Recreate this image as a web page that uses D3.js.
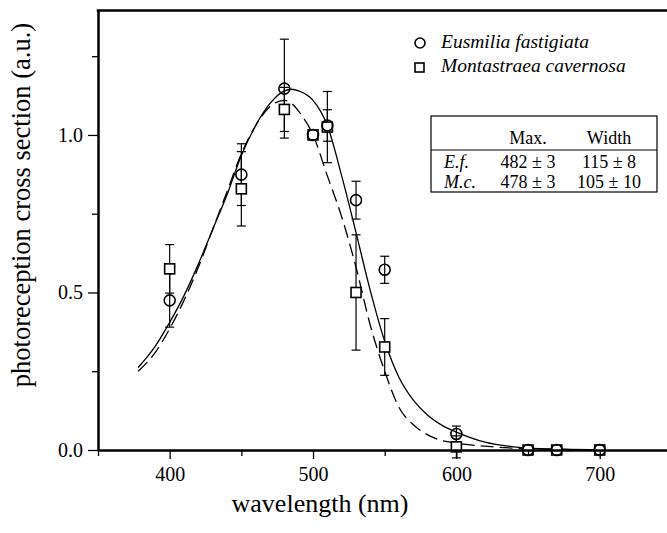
<!DOCTYPE html>
<html><head><meta charset="utf-8">
<script src="https://cdn.jsdelivr.net/npm/d3@7"></script>
<style>
body{margin:0;background:#fff;}
svg{display:block;font-family:"Liberation Serif","Times New Roman",serif;}
</style></head>
<body><svg id="c" width="667" height="533"></svg>
<script>
// ---- data ----
const xTicks = [400, 500, 600, 700];
const xMinorTicks = [350, 450, 550, 650];
const yTicks = [0.0, 0.5, 1.0];
const yMinorTicks = [0.25, 0.75, 1.25];
const yTickLabels = ["0.0", "0.5", "1.0"];

// Eusmilia fastigiata (circles)
const efWave = [400, 450, 480, 500, 510, 530, 550, 600, 650, 670, 700];
const efVal  = [0.475, 0.874, 1.147, 1.0, 1.03, 0.793, 0.572, 0.051, 0.0, 0.0, 0.0];
const efErr  = [0.085, 0.098, 0.157, 0, 0.05, 0.06, 0.043, 0.025, 0, 0, 0];

// Montastraea cavernosa (squares)
const mcWave = [400, 450, 480, 500, 510, 530, 550, 600, 650, 670, 700];
const mcVal  = [0.575, 0.829, 1.081, 1.0, 1.025, 0.5, 0.327, 0.01, 0.0, 0.0, 0.0];
const mcErr  = [0.077, 0.118, 0.07, 0, 0.113, 0.183, 0.09, 0.035, 0, 0, 0];

// fitted curves
const fitWave  = [378, 390, 400, 410, 420, 430, 440, 450, 460, 470, 480, 485, 490, 500, 510, 520, 530, 540, 550, 560, 570, 580, 590, 600, 620, 640, 660, 680, 700];
const efFit    = [0.262, 0.33, 0.405, 0.49, 0.59, 0.70, 0.81, 0.935, 1.03, 1.10, 1.14, 1.145, 1.14, 1.11, 1.03, 0.87, 0.69, 0.505, 0.345, 0.23, 0.158, 0.11, 0.078, 0.057, 0.025, 0.01, 0.004, 0.002, 0.001];
const mcFit    = [0.25, 0.31, 0.385, 0.475, 0.58, 0.70, 0.82, 0.94, 1.03, 1.09, 1.11, 1.10, 1.075, 1.0, 0.87, 0.74, 0.58, 0.395, 0.25, 0.135, 0.08, 0.048, 0.03, 0.022, 0.012, 0.006, 0.003, 0.001, 0.0];

const legendNames = ["Eusmilia fastigiata", "Montastraea cavernosa"];
const tableHeader = ["", "Max.", "Width"];
const tableRows = [["E.f.", "482 \u00b1 3", "115 \u00b1 8"], ["M.c.", "478 \u00b1 3", "105 \u00b1 10"]];

// ---- layout ----
const svg = d3.select("#c");
const L = 98, T = 10.5, B = 450;
const x = d3.scaleLinear().domain([350, 750]).range([L, L + 400 * 1.4335]);
const y = d3.scaleLinear().domain([0, 1.395]).range([B, T]);

// curves
const line = d3.line().x(d => x(d[0])).y(d => y(d[1])).curve(d3.curveMonotoneX);
svg.append("path").datum(fitWave.map((w, i) => [w, efFit[i]]))
  .attr("d", line).attr("fill", "none").attr("stroke", "#000").attr("stroke-width", 1.3);
svg.append("path").datum(fitWave.map((w, i) => [w, mcFit[i]]))
  .attr("d", line).attr("fill", "none").attr("stroke", "#000").attr("stroke-width", 1.3)
  .attr("stroke-dasharray", "13,6");

// error bars
function errBars(wave, val, err) {
  const g = svg.append("g").attr("stroke", "#000").attr("stroke-width", 1.2);
  wave.forEach((w, i) => {
    if (!err[i]) return;
    const cx = x(w), y1 = y(val[i] + err[i]), y2 = y(val[i] - err[i]);
    g.append("line").attr("x1", cx).attr("x2", cx).attr("y1", y1).attr("y2", y2);
    g.append("line").attr("x1", cx - 4.5).attr("x2", cx + 4.5).attr("y1", y1).attr("y2", y1);
    g.append("line").attr("x1", cx - 4.5).attr("x2", cx + 4.5).attr("y1", y2).attr("y2", y2);
  });
}
errBars(efWave, efVal, efErr);
errBars(mcWave, mcVal, mcErr);

// markers
svg.append("g").selectAll("rect").data(mcWave.map((w, i) => [w, mcVal[i]])).join("rect")
  .attr("x", d => x(d[0]) - 5).attr("y", d => y(d[1]) - 5).attr("width", 10).attr("height", 10)
  .attr("fill", "#fff").attr("stroke", "#000").attr("stroke-width", 1.6);
svg.append("g").selectAll("circle").data(efWave.map((w, i) => [w, efVal[i]])).join("circle")
  .attr("cx", d => x(d[0])).attr("cy", d => y(d[1])).attr("r", 5.5)
  .attr("fill", "none").attr("stroke", "#000").attr("stroke-width", 1.6);

// axes
const xAxis = svg.append("g").attr("transform", `translate(0,${B})`)
  .call(d3.axisBottom(x).tickValues(xTicks).tickSize(9).tickSizeOuter(0).tickFormat(d3.format("d")));
xAxis.select(".domain").attr("stroke-width", 2.5);
xAxis.selectAll(".tick line").attr("stroke-width", 1.3);
xAxis.selectAll("text").attr("font-size", 20).attr("font-family", "Liberation Serif").attr("dy", "0.95em").attr("fill", "#000");
svg.append("g").attr("transform", `translate(0,${B})`)
  .call(d3.axisBottom(x).tickValues(xMinorTicks).tickSize(6).tickFormat(""))
  .call(g => g.select(".domain").remove()).selectAll("line").attr("stroke-width", 1.3);

const yAxis = svg.append("g").attr("transform", `translate(${L},0)`)
  .call(d3.axisLeft(y).tickValues(yTicks).tickSize(10).tickSizeOuter(0).tickFormat((d, i) => yTickLabels[i]));
yAxis.select(".domain").attr("stroke-width", 2.5);
yAxis.selectAll(".tick line").attr("stroke-width", 1.3);
yAxis.selectAll("text").attr("font-size", 20).attr("font-family", "Liberation Serif").attr("x", -15).attr("fill", "#000");
svg.append("g").attr("transform", `translate(${L},0)`)
  .call(d3.axisLeft(y).tickValues(yMinorTicks).tickSize(6).tickFormat(""))
  .call(g => g.select(".domain").remove()).selectAll("line").attr("stroke-width", 1.3);

// top frame
svg.append("line").attr("x1", L - 1.25).attr("x2", 667).attr("y1", T).attr("y2", T)
  .attr("stroke", "#000").attr("stroke-width", 2.5);

// axis titles
svg.append("text").attr("x", 320).attr("y", 512).attr("text-anchor", "middle")
  .attr("font-size", 26).text("wavelength (nm)");
svg.append("text").attr("transform", "translate(30,205) rotate(-90)").attr("text-anchor", "middle")
  .attr("font-size", 26.5).text("photoreception cross section (a.u.)");

// legend
const lg = svg.append("g");
lg.append("circle").attr("cx", 420).attr("cy", 43).attr("r", 5).attr("fill", "none").attr("stroke", "#000").attr("stroke-width", 1.6);
lg.append("rect").attr("x", 415).attr("y", 63).attr("width", 9).attr("height", 9).attr("fill", "none").attr("stroke", "#000").attr("stroke-width", 1.6);
lg.selectAll("text").data(legendNames).join("text")
  .attr("x", 441).attr("y", (d, i) => 48 + i * 24).attr("font-size", 19.5).attr("font-style", "italic").text(d => d);

// table
const tb = svg.append("g");
tb.append("rect").attr("x", 431).attr("y", 116).attr("width", 226).attr("height", 76)
  .attr("fill", "#fff").attr("stroke", "#000").attr("stroke-width", 1.2);
tb.append("line").attr("x1", 431).attr("x2", 657).attr("y1", 150).attr("y2", 150).attr("stroke", "#000").attr("stroke-width", 1);
const colX = [445, 528, 609];
tableHeader.forEach((t, j) => {
  if (!t) return;
  tb.append("text").attr("x", colX[j]).attr("y", 144).attr("text-anchor", "middle").attr("font-size", 18).text(t);
});
tableRows.forEach((row, i) => {
  row.forEach((t, j) => {
    tb.append("text").attr("x", j === 0 ? 444 : colX[j]).attr("y", 168 + i * 19.5)
      .attr("text-anchor", j === 0 ? "start" : "middle").attr("font-size", 18)
      .attr("font-style", j === 0 ? "italic" : "normal").text(t);
  });
});
</script></body></html>
